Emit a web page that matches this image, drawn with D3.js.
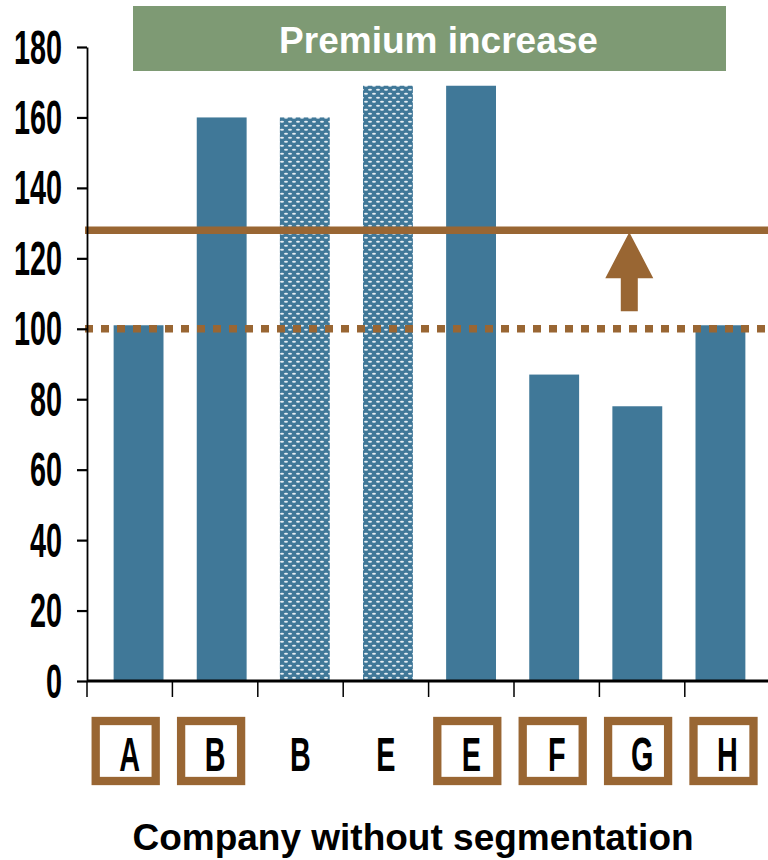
<!DOCTYPE html>
<html><head><meta charset="utf-8">
<script src="https://cdn.jsdelivr.net/npm/d3@7"></script>
<style>body{margin:0;background:#fff}svg{display:block}</style>
</head><body>
<script>
const categories = ["A","B","B","E","E","F","G","H"];
const values = [101,160,160,169,169,87,78,101];
const patterned = [false,false,true,true,false,false,false,false];
const boxed = [true,true,false,false,true,true,true,true];
const yTicks = [0,20,40,60,80,100,120,140,160,180];
const baseline = 100;
const target = 128;
const arrowFrom = 105;
const titleText = "Premium increase";
const xTitle = "Company without segmentation";

const W = 768, H = 860;
const BLUE = "#407898", BROWN = "#996633", GREEN = "#7e9a74";
const FONT = "'Liberation Sans', Arial, sans-serif";

const svg = d3.select("body").append("svg").attr("width", W).attr("height", H);

const defs = svg.append("defs");
const pat = defs.append("pattern").attr("id","dots").attr("patternUnits","userSpaceOnUse")
  .attr("width",8).attr("height",8);
pat.append("rect").attr("width",8).attr("height",8).attr("fill",BLUE);
pat.append("ellipse").attr("cx",2).attr("cy",1.8).attr("rx",2).attr("ry",1).attr("fill","#e6eef3");
pat.append("ellipse").attr("cx",6).attr("cy",5.8).attr("rx",2).attr("ry",1).attr("fill","#e6eef3");

const idx = d3.range(categories.length);
const y = d3.scaleLinear().domain([0,180]).range([681,47]);
const xBar = d3.scaleBand().domain(idx).range([97,762]).paddingInner(0.4).paddingOuter(0.2);
const xTick = d3.scaleBand().domain(idx).range([87, 87 + 8*85.4]);

// title box
svg.append("rect").attr("x",133).attr("y",6).attr("width",593).attr("height",65).attr("fill",GREEN);
svg.append("text").attr("x",438.5).attr("y",52.5).attr("text-anchor","middle")
  .attr("font-family",FONT).attr("font-weight","bold").attr("font-size",37).attr("fill","#fff")
  .text(titleText);

// bars
svg.append("g").selectAll("rect").data(idx).join("rect")
  .attr("x", i => xBar(i)).attr("width", xBar.bandwidth())
  .attr("y", i => y(values[i])).attr("height", i => y(0) - y(values[i]))
  .attr("fill", i => patterned[i] ? "url(#dots)" : BLUE);

// reference lines
svg.append("line").attr("x1",85).attr("x2",W).attr("y1",y(baseline)).attr("y2",y(baseline))
  .attr("stroke",BROWN).attr("stroke-width",7.5).attr("stroke-dasharray","8,8");
svg.append("line").attr("x1",85).attr("x2",W).attr("y1",y(target)).attr("y2",y(target))
  .attr("stroke",BROWN).attr("stroke-width",7.5);

// arrow
const ax = xTick(6) + 0.35*xTick.step();
const tipY = y(target) + 2, headY = tipY + 46, botY = y(arrowFrom);
svg.append("path")
  .attr("d", `M${ax},${tipY} L${ax+24},${headY} L${ax+8.5},${headY} L${ax+8.5},${botY} L${ax-8.5},${botY} L${ax-8.5},${headY} L${ax-24},${headY} Z`)
  .attr("fill",BROWN);

// y axis
const yAxis = svg.append("g").attr("transform","translate(87,0)")
  .call(d3.axisLeft(y).tickValues(yTicks).tickSize(10).tickSizeOuter(0).tickFormat(""));
yAxis.select(".domain").attr("stroke","#000").attr("stroke-width",1.8);
yAxis.selectAll(".tick line").attr("stroke","#000").attr("stroke-width",2.2);
svg.append("g").selectAll("text").data(yTicks).join("text")
  .attr("transform", d => `translate(62,${y(d)+16.5}) scale(0.6,1)`)
  .attr("text-anchor","end").attr("font-family",FONT).attr("font-weight","bold")
  .attr("font-size",48).attr("fill","#000").text(d => d);

// x axis
svg.append("line").attr("x1",87).attr("x2",W).attr("y1",681).attr("y2",681)
  .attr("stroke","#000").attr("stroke-width",3);
svg.append("g").selectAll("line").data(idx).join("line")
  .attr("x1", i => xTick(i)).attr("x2", i => xTick(i)).attr("y1",681).attr("y2",697)
  .attr("stroke","#000").attr("stroke-width",1.5);

// labels
const lab = svg.append("g");
lab.selectAll("rect").data(idx.filter(i => boxed[i])).join("rect")
  .attr("x", i => xTick(i) + xTick.bandwidth()/2 - 4 - 30).attr("y",721)
  .attr("width",60).attr("height",60).attr("fill","#fff")
  .attr("stroke",BROWN).attr("stroke-width",8.3);
lab.selectAll("text").data(idx).join("text")
  .attr("transform", i => `translate(${xTick(i) + xTick.bandwidth()/2},770.5) scale(0.6,1)`)
  .attr("text-anchor","middle").attr("font-family",FONT).attr("font-weight","bold")
  .attr("font-size",48).attr("fill","#000").text(i => categories[i]);

svg.append("text").attr("x",413).attr("y",850).attr("text-anchor","middle")
  .attr("font-family",FONT).attr("font-weight","bold").attr("font-size",37).attr("fill","#000")
  .text(xTitle);
</script>
</body></html>
